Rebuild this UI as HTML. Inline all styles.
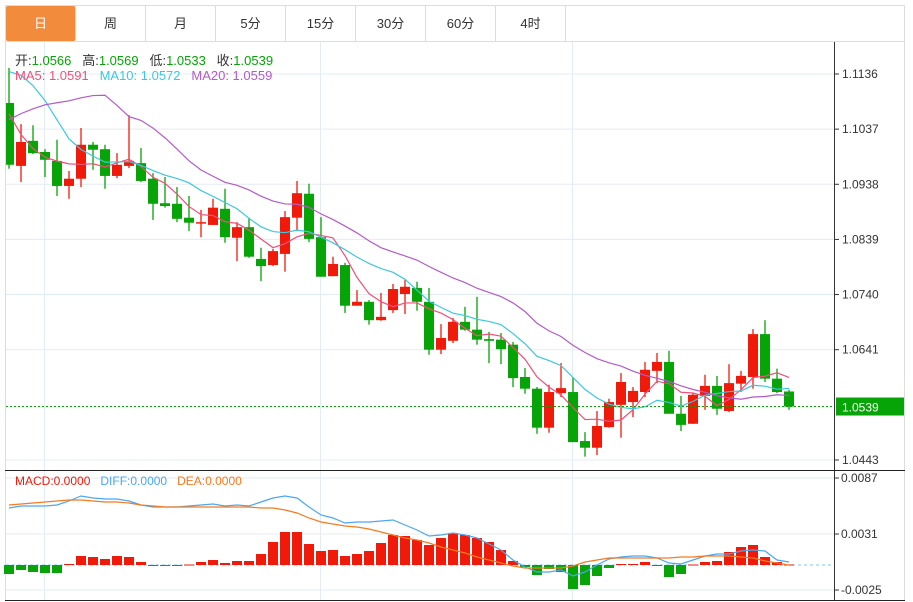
<!DOCTYPE html>
<html><head><meta charset="utf-8"><style>
body{margin:0;background:#fff;width:913px;height:602px;overflow:hidden;font-family:"Liberation Sans","Noto Sans CJK SC",sans-serif;}
svg{position:absolute;left:0;top:0}
.tab{position:absolute;top:6px;height:35px;width:69px;border-right:1px solid #ddd;font-size:13px;color:#333;text-align:center;line-height:35px;}
</style></head><body>
<svg id="c" width="913" height="602"></svg>
<div class="tab" style="left:6px;background:#F28B3C;color:#fff;border-radius:2px">日</div>
<div class="tab" style="left:76px">周</div>
<div class="tab" style="left:146px">月</div>
<div class="tab" style="left:216px">5分</div>
<div class="tab" style="left:286px">15分</div>
<div class="tab" style="left:356px">30分</div>
<div class="tab" style="left:426px">60分</div>
<div class="tab" style="left:496px">4时</div>
<script>
const opens=[1.1084,1.0971,1.1016,1.0996,1.0980,1.0935,1.0948,1.1009,1.1001,1.0953,1.0971,1.0976,1.0948,1.0904,1.0903,1.0878,1.0869,1.0865,1.0894,1.0842,1.0861,1.0804,1.0793,1.0813,1.0878,1.0921,1.0843,1.0773,1.0793,1.0720,1.0727,1.0694,1.0712,1.0741,1.0752,1.0727,1.0641,1.0657,1.0691,1.0677,1.0660,1.0659,1.0650,1.0592,1.0571,1.0501,1.0563,1.0565,1.0477,1.0465,1.0502,1.0542,1.0547,1.0565,1.0603,1.0619,1.0526,1.0508,1.0558,1.0576,1.0531,1.0580,1.0592,1.0669,1.0589,1.0566];
const closes=[1.0973,1.1014,1.0994,1.0982,1.0935,1.0948,1.1009,1.1000,1.0953,1.0973,1.0980,1.0944,1.0903,1.0899,1.0876,1.0869,1.0870,1.0896,1.0843,1.0861,1.0808,1.0791,1.0818,1.0879,1.0922,1.0840,1.0772,1.0795,1.0720,1.0727,1.0694,1.0700,1.0750,1.0754,1.0727,1.0641,1.0662,1.0691,1.0677,1.0659,1.0657,1.0642,1.0590,1.0571,1.0501,1.0565,1.0572,1.0475,1.0465,1.0504,1.0547,1.0583,1.0567,1.0605,1.0619,1.0526,1.0506,1.0560,1.0576,1.0535,1.0581,1.0594,1.0669,1.0589,1.0565,1.0539];
const highs=[1.1147,1.1046,1.1044,1.1001,1.1018,1.0962,1.1039,1.1014,1.1009,1.0994,1.1062,1.1003,1.0958,1.0951,1.0933,1.0917,1.0892,1.0912,1.0930,1.0870,1.0878,1.0824,1.0822,1.0890,1.0944,1.0939,1.0879,1.0808,1.0797,1.0748,1.0730,1.0743,1.0759,1.0766,1.0763,1.0752,1.0687,1.0698,1.0718,1.0736,1.0673,1.0671,1.0655,1.0608,1.0574,1.0578,1.0617,1.0592,1.0493,1.0531,1.0553,1.0599,1.0574,1.0619,1.0635,1.0639,1.0558,1.0563,1.0596,1.0594,1.0615,1.0603,1.0678,1.0694,1.0607,1.0569];
const lows=[1.0966,1.0942,1.0992,1.0951,1.0917,1.0912,1.0933,1.0964,1.0930,1.0949,1.0967,1.0942,1.0874,1.0896,1.0870,1.0854,1.0843,1.0865,1.0833,1.0800,1.0806,1.0764,1.0791,1.0781,1.0854,1.0834,1.0772,1.0773,1.0707,1.0720,1.0686,1.0693,1.0707,1.0705,1.0711,1.0632,1.0633,1.0653,1.0675,1.0650,1.0617,1.0615,1.0574,1.0562,1.0490,1.0492,1.0556,1.0475,1.0449,1.0452,1.0501,1.0483,1.0520,1.0556,1.0581,1.0526,1.0495,1.0508,1.0533,1.0524,1.0529,1.0565,1.0571,1.0583,1.0563,1.0533];
const priorCloses=[1.080,1.082,1.084,1.086,1.088,1.090,1.092,1.094,1.134,1.138,1.108,1.118,1.125,1.128,1.129,1.120,1.112,1.106,1.097];
const priceTicks=["1.1136","1.1037","1.0938","1.0839","1.0740","1.0641","1.0443"];
const macdBars=[-9,-5,-7,-8,-8,1,9,8,6,9,8,3,-1,-1,-1,0.5,3,5,2,4,4,11,23,33,33,21,14,15,9,11,14,22,30,29,25,20,27,32,30,27,23,15,4,-2,-10,-4,-7,-24,-20,-11,-3,1,1,3,-0.5,-12,-9,0.5,3,4,13,18,20,8,3,0.5];
const diffVals=[57,59,59,59,60,64,69,67,66,66,64,60,58,58,58,59,60,61,59,60,59,63,67,69,67,58,50,47,42,43,43,44,45,40,35,29,30,32,30,27,21,15,5,-2,-7,-7,-5,-11,-7,0,6,8,9,9,7,2,1,5,9,11,11,14,15,14,5,3];
const deaVals=[60,61,62,63,64,65,65,64,63,63,62,60,59,58,58,58,58,58,58,58,58,57,57,55,52,47,43,41,39,38,36,33,30,27,25,22,18,15,12,8,5,2,-1,-3,-3,-3,-3,-1,3,5,7,7,7,7,7,7,8,8,9,9,9,8,7,4,2,0];
const macdTicks=["0.0087","0.0031","-0.0025"];

const NS="http://www.w3.org/2000/svg";
const svg=document.getElementById('c');
function el(t,a,p){const e=document.createElementNS(NS,t);for(const k in a)e.setAttribute(k,a[k]);(p||svg).appendChild(e);return e;}
const X0=9,DX=12;
const xs=i=>X0+DX*i;
const py=p=>74+(1.1136-p)/0.0099*55.14;
const my=v=>565-v;
el('rect',{x:5.5,y:5.5,width:899,height:595,fill:'none',stroke:'#ddd'});
el('line',{x1:5,y1:41.5,x2:905,y2:41.5,stroke:'#ddd'});
priceTicks.forEach(t=>{el('line',{x1:6,x2:834,y1:py(+t),y2:py(+t),stroke:'#e3ecf2'});});
macdTicks.forEach(t=>{el('line',{x1:6,x2:834,y1:my(+t*10000),y2:my(+t*10000),stroke:'#e3ecf2'});});
[44.5,320.5,572.5].forEach(x=>el('line',{x1:x,x2:x,y1:42,y2:600,stroke:'#e3ecf2'}));
el('line',{x1:834.5,x2:834.5,y1:42,y2:601,stroke:'#333'});
el('line',{x1:5,x2:905,y1:470.5,y2:470.5,stroke:'#222'});
el('line',{x1:5,x2:905,y1:600.5,y2:600.5,stroke:'#222'});
priceTicks.forEach(t=>{const y=py(+t);el('line',{x1:834,x2:839,y1:y,y2:y,stroke:'#333'});
 const tx=el('text',{x:842,y:y+4,'font-size':12,fill:'#333'});tx.textContent=t;
 
 });
macdTicks.forEach(t=>{const y=my(+t*10000);el('line',{x1:834,x2:839,y1:y,y2:y,stroke:'#333'});
 const tx=el('text',{x:841,y:y+4,'font-size':12,fill:'#333'});tx.textContent=t;
 
 });
const all=priorCloses.concat(closes);
function ma(n){return closes.map((c,i)=>{let s=0;const k=i+priorCloses.length;for(let j=k-n+1;j<=k;j++)s+=all[j];return s/n;});}
const clip=el('clipPath',{id:'pc'});el('rect',{x:6,y:42,width:828,height:428},clip);
const g=el('g',{'clip-path':'url(#pc)'});
closes.forEach((c,i)=>{const o=opens[i],up=c>=o,col=up?'#f01a0a':'#06a406';const x=xs(i);
 el('line',{x1:x,x2:x,y1:py(highs[i]),y2:py(lows[i]),stroke:col,'stroke-width':1.3},g);
 const top=py(Math.max(o,c)),h=Math.max(1.5,py(Math.min(o,c))-top);
 const r=el('rect',{x:x-5,y:top,width:10,height:h,fill:col},g);
 
 });
[[5,'#f0507a'],[10,'#3ac8e0'],[20,'#b45ac8']].forEach(([n,col])=>{const v=ma(n);
 const p=el('polyline',{points:v.map((m,i)=>xs(i)+','+py(m)).join(' '),fill:'none',stroke:col,'stroke-width':1.2},g);
 
 });
const lp=closes[closes.length-1];
el('line',{x1:6,x2:834,y1:py(lp),y2:py(lp),stroke:'#06a406','stroke-dasharray':'2,2'});
el('rect',{x:836,y:py(lp)-9,width:68,height:18,fill:'#06a406'});
const lt=el('text',{x:842,y:py(lp)+5,'font-size':12,fill:'#fff'});lt.textContent=lp.toFixed(4);


el('line',{x1:6,x2:834,y1:my(0),y2:my(0),stroke:'#7cc8e8','stroke-dasharray':'3,3'});
macdBars.forEach((v,i)=>{const x=xs(i);const r=el('rect',{x:x-5,y:Math.min(my(v),my(0)),width:10,height:Math.max(1,Math.abs(v)),fill:v>=0?'#f01a0a':'#06a406'});
 
 });
[[diffVals,'#4aa8f0','diff-line'],[deaVals,'#f57a20','dea-line']].forEach(([arr,col,nm])=>{
 const p=el('polyline',{points:arr.map((v,i)=>xs(i)+','+my(v)).join(' '),fill:'none',stroke:col,'stroke-width':1.2});
 
 });
</script>
<div style="position:absolute;left:15px;top:50px;font-size:13px;color:#333;white-space:nowrap">开:<span style="color:#06a406">1.0566</span>&nbsp;&nbsp; 高:<span style="color:#06a406">1.0569</span>&nbsp;&nbsp; 低:<span style="color:#06a406">1.0533</span>&nbsp;&nbsp; 收:<span style="color:#06a406">1.0539</span></div>
<div style="position:absolute;left:15px;top:68px;font-size:13px;white-space:nowrap"><span style="color:#f0507a">MA5: 1.0591</span>&nbsp;&nbsp; <span style="color:#3ac8e0">MA10: 1.0572</span>&nbsp;&nbsp; <span style="color:#b45ac8">MA20: 1.0559</span></div>
<div style="position:absolute;left:15px;top:474px;font-size:12px;white-space:nowrap"><span style="color:#f01a0a">MACD:0.0000</span>&nbsp;&nbsp; <span style="color:#4aa8f0">DIFF:0.0000</span>&nbsp;&nbsp; <span style="color:#f57a20">DEA:0.0000</span></div>
</body></html>
